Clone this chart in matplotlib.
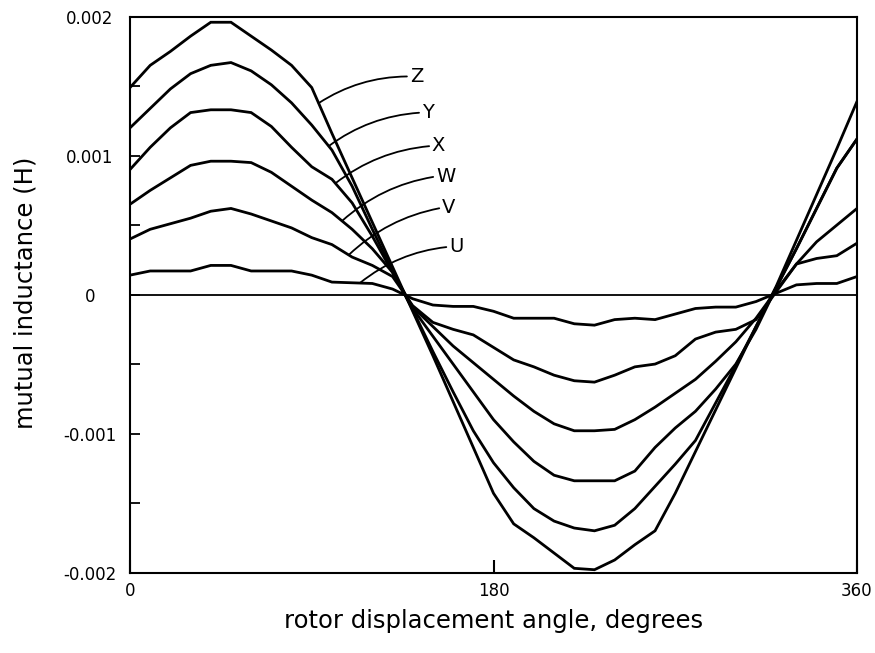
import numpy as np
import matplotlib
matplotlib.use("Agg")
import matplotlib.pyplot as plt
from matplotlib.ticker import FixedLocator

# rotor angle (degrees) and mutual inductance (mH) for the six coil positions
angles = list(range(0, 361, 10))
Z = [1.49, 1.65, 1.75, 1.86, 1.96, 1.96, 1.86, 1.76, 1.65, 1.49,
     1.16, 0.84, 0.52, 0.20, -0.12, -0.44, -0.77, -1.10, -1.43,
     -1.65, -1.75, -1.86, -1.97, -1.98, -1.91, -1.80, -1.70, -1.43,
     -1.13, -0.83, -0.53, -0.23, 0.06, 0.39, 0.72, 1.05, 1.39]
Y = [1.20, 1.34, 1.48, 1.59, 1.65, 1.67, 1.61, 1.51, 1.38, 1.22,
     1.04, 0.78, 0.47, 0.17, -0.11, -0.41, -0.70, -0.98, -1.21,
     -1.39, -1.54, -1.63, -1.68, -1.70, -1.66, -1.54, -1.38, -1.22,
     -1.05, -0.78, -0.51, -0.23, 0.05, 0.33, 0.62, 0.91, 1.12]
X = [0.90, 1.06, 1.20, 1.31, 1.33, 1.33, 1.31, 1.21, 1.06, 0.92,
     0.83, 0.66, 0.42, 0.16, -0.10, -0.30, -0.50, -0.70, -0.90,
     -1.06, -1.20, -1.30, -1.34, -1.34, -1.34, -1.27, -1.10, -0.96,
     -0.84, -0.68, -0.50, -0.25, 0.05, 0.33, 0.62, 0.91, 1.12]
W = [0.65, 0.75, 0.84, 0.93, 0.96, 0.96, 0.95, 0.88, 0.78, 0.68,
     0.59, 0.47, 0.33, 0.16, -0.09, -0.23, -0.37, -0.49, -0.61,
     -0.73, -0.84, -0.93, -0.98, -0.98, -0.97, -0.90, -0.81, -0.71,
     -0.61, -0.48, -0.34, -0.17, 0.03, 0.22, 0.38, 0.50, 0.62]
V = [0.40, 0.47, 0.51, 0.55, 0.60, 0.62, 0.58, 0.53, 0.48, 0.41,
     0.36, 0.27, 0.21, 0.13, -0.08, -0.20, -0.25, -0.29, -0.38,
     -0.47, -0.52, -0.58, -0.62, -0.63, -0.58, -0.52, -0.50, -0.44,
     -0.32, -0.27, -0.25, -0.18, 0.02, 0.22, 0.26, 0.28, 0.37]
U = [0.14, 0.17, 0.17, 0.17, 0.21, 0.21, 0.17, 0.17, 0.17, 0.14,
     0.09, 0.085, 0.08, 0.04, -0.03, -0.075, -0.085, -0.085, -0.12,
     -0.17, -0.17, -0.17, -0.21, -0.22, -0.18, -0.17, -0.18, -0.14,
     -0.10, -0.09, -0.09, -0.05, 0.01, 0.07, 0.08, 0.08, 0.13]

names = ["Z", "Y", "X", "W", "V", "U"]
series = [Z, Y, X, W, V, U]

# label annotation: where the leader touches the curve and where the letter sits
anchor_angle = [93.4, 98.4, 101.7, 105.0, 108.3, 113.8]
label_angle = [138.5, 144.5, 149.5, 151.5, 154.5, 158.0]
label_value = [1.57, 1.31, 1.07, 0.85, 0.625, 0.344]

x_ticks = [0, 180, 360]
x_ticklabels = ["0", "180", "360"]
y_ticks = [0.002, 0.001, 0.0, -0.001, -0.002]
y_ticklabels = ["0.002", "0.001", "0", "-0.001", "-0.002"]
y_minor = [0.0015, 0.0005, -0.0005, -0.0015]

plt.rcParams["font.family"] = ["DejaVu Sans"]

fig = plt.figure(figsize=(8.75, 6.53), dpi=100)
ax = fig.add_axes([130 / 875, 1 - 572.5 / 653, (857 - 130) / 875, (572.5 - 16.7) / 653])

ang = np.array(angles, dtype=float)
for name, s in zip(names, series):
    ax.plot(ang, np.array(s) * 1e-3, color="black", lw=2.0, solid_joinstyle="miter")

ax.axhline(0, color="black", lw=1.3)

for name, s, aa, la, lv in zip(names, series, anchor_angle, label_angle, label_value):
    av = np.interp(aa, ang, np.array(s)) * 1e-3
    ax.annotate(name, xy=(aa, av), xytext=(la, lv * 1e-3),
                ha="left", va="center", fontsize=14,
                arrowprops=dict(arrowstyle="-", color="black", lw=1.3,
                                relpos=(0, 0.5), shrinkA=0, shrinkB=0,
                                connectionstyle="arc3,rad=0.15"))

ax.set_xlim(0, 360)
ax.set_ylim(-0.002, 0.002)
ax.set_xticks(x_ticks)
ax.set_xticklabels(x_ticklabels)
ax.set_yticks(y_ticks)
ax.set_yticklabels(y_ticklabels)
ax.yaxis.set_minor_locator(FixedLocator(y_minor))

ax.tick_params(axis="x", which="major", direction="in", length=9.5, width=1.5,
               labelsize=12, pad=7)
ax.tick_params(axis="y", which="major", direction="in", length=7, width=1.3,
               labelsize=12, pad=29)
ax.tick_params(axis="y", which="minor", direction="in", length=7, width=1.3)
for lab in ax.get_yticklabels():
    lab.set_horizontalalignment("center")

for sp in ax.spines.values():
    sp.set_linewidth(1.5)

ax.set_xlabel("rotor displacement angle, degrees", fontsize=17.5, labelpad=6)
ax.set_ylabel("mutual inductance (H)", fontsize=17.5)
ax.yaxis.set_label_coords(-0.127, 0.503)

fig.savefig("out.png", dpi=100)
